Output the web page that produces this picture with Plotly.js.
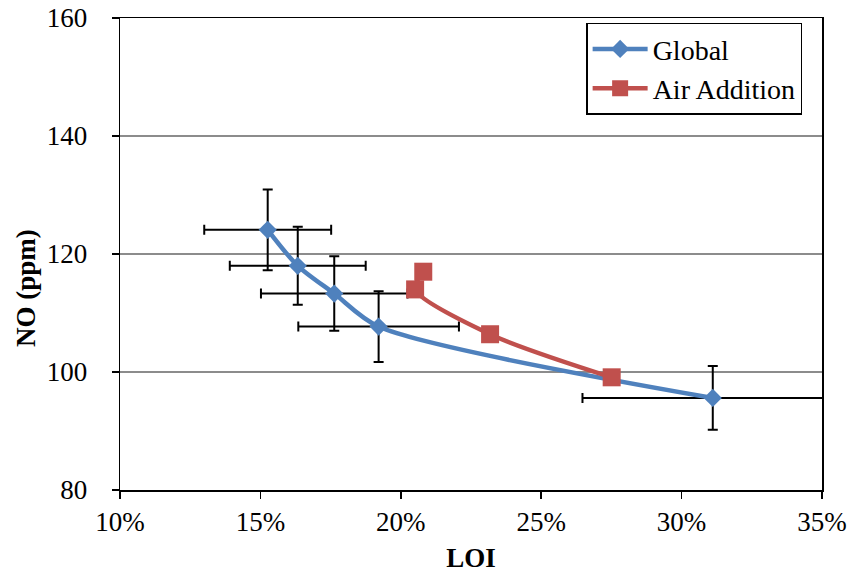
<!DOCTYPE html>
<html>
<head>
<meta charset="utf-8">
<script src="https://cdn.plot.ly/plotly-3.0.1.min.js"></script>
<style>html,body{margin:0;padding:0;background:#fff;}#chart{width:854px;height:573px;}</style>
</head>
<body>
<div id="chart"></div>
<script>
// Global series
const globalLOI = [0.1526, 0.1633, 0.1763, 0.1921, 0.3111];
const globalNO = [124.1, 118.0, 113.3, 107.7, 95.6];
const globalLOIErr = [0.0226, 0.0242, 0.0261, 0.0286, 0.0464];
const globalNOErr = [6.85, 6.6, 6.3, 6.0, 5.4];
// Air Addition series
const airLOI = [0.2080, 0.2051, 0.2318, 0.2751];
const airNO = [117.0, 114.0, 106.4, 99.1];
// Axis ticks
const xTicks = [0.10, 0.15, 0.20, 0.25, 0.30, 0.35];
const xTickText = ['10%', '15%', '20%', '25%', '30%', '35%'];
const yTicks = [80, 100, 120, 140, 160];
const yTickText = ['80', '100', '120', '140', '160'];

const FONT = '"Liberation Serif"';
const PAD = '\u00a0\u00a0\u2009';

const traces = [
  {
    name: 'Global',
    x: globalLOI, y: globalNO,
    type: 'scatter', mode: 'lines+markers',
    line: {color: '#4F81BD', width: 4.5, shape: 'spline', smoothing: 0.8},
    marker: {symbol: 'diamond', size: 14, color: '#4F81BD'},
    error_x: {type: 'data', array: globalLOIErr, visible: true, color: '#000', thickness: 2, width: 5},
    error_y: {type: 'data', array: globalNOErr, visible: true, color: '#000', thickness: 2, width: 5}
  },
  {
    name: 'Air Addition',
    x: airLOI, y: airNO,
    type: 'scatter', mode: 'lines+markers',
    line: {color: '#C0504D', width: 4.5, shape: 'spline', smoothing: 0.8},
    marker: {symbol: 'square', size: 18, color: '#C0504D'}
  }
];

const layout = {
  width: 854, height: 573,
  margin: {l: 120, r: 32, t: 18, b: 83},
  paper_bgcolor: '#fff', plot_bgcolor: '#fff',
  font: {family: FONT, size: 27, color: '#000'},
  showlegend: true,
  legend: {
    x: 0.664, y: 0.99, xanchor: 'left', yanchor: 'top',
    bordercolor: '#000', borderwidth: 1.5, bgcolor: '#fff',
    font: {family: FONT, size: 28, color: '#000'},
    itemwidth: 55, tracegroupgap: 0
  },
  xaxis: {
    range: [0.10, 0.35],
    tickvals: xTicks, ticktext: xTickText,
    showgrid: false, zeroline: false,
    showline: true, mirror: true, linecolor: '#000', linewidth: 1.5,
    ticks: 'outside', ticklen: 7, tickwidth: 1.5, tickcolor: '#000',
    tickfont: {family: FONT, size: 27},
    title: {text: '<b>LOI</b>', font: {family: FONT, size: 27}, standoff: 12}
  },
  yaxis: {
    range: [80, 160],
    tickvals: yTicks,
    ticktext: yTickText.map(t => t + PAD),
    showgrid: true, gridcolor: '#8c8c8c', gridwidth: 1.5,
    zeroline: false,
    showline: true, mirror: true, linecolor: '#000', linewidth: 1.5,
    ticks: 'outside', ticklen: 7, tickwidth: 1.5, tickcolor: '#000',
    tickfont: {family: FONT, size: 27}
  },
  annotations: [{
    text: '<b>NO (ppm)</b>', textangle: -90,
    xref: 'paper', yref: 'paper', x: -0.134, y: 0.428,
    xanchor: 'center', yanchor: 'middle', showarrow: false,
    font: {family: FONT, size: 27, color: '#000'}
  }]
};

Plotly.newPlot('chart', traces, layout, {displayModeBar: false, staticPlot: true});
</script>
</body>
</html>
